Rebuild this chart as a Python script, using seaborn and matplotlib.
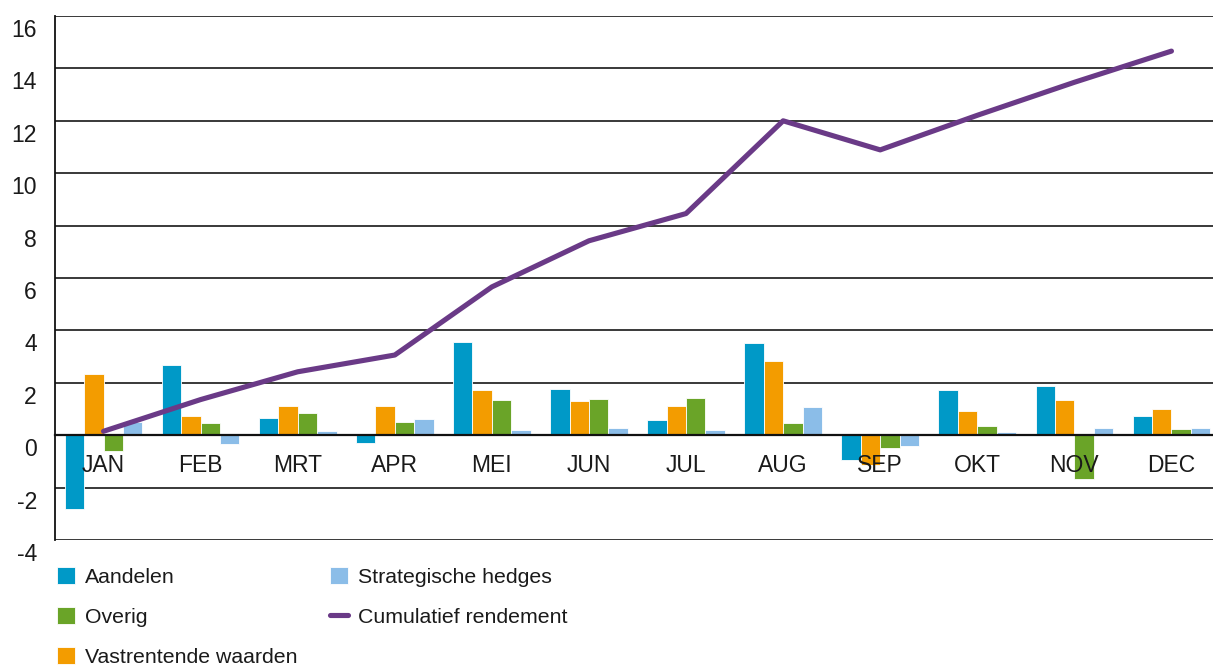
import numpy as np
import pandas as pd
import matplotlib
matplotlib.use("Agg")
import matplotlib.pyplot as plt
import matplotlib.transforms as mtransforms
from matplotlib.legend_handler import HandlerLine2D
import seaborn as sns

# Data
maanden = ["JAN", "FEB", "MRT", "APR", "MEI", "JUN", "JUL", "AUG", "SEP", "OKT", "NOV", "DEC"]
aandelen = [-2.80, 2.68, 0.66, -0.31, 3.57, 1.76, 0.59, 3.51, -0.94, 1.72, 1.87, 0.75]
vastrentend = [2.34, 0.75, 1.10, 1.10, 1.72, 1.30, 1.11, 2.83, -1.12, 0.94, 1.34, 0.99]
overig = [-0.61, 0.45, 0.85, 0.51, 1.33, 1.40, 1.41, 0.45, -0.50, 0.34, -1.66, 0.23]
hedges = [0.50, -0.32, 0.15, 0.61, 0.19, 0.28, 0.20, 1.08, -0.43, 0.11, 0.26, 0.27]
cumulatief = [0.15, 1.36, 2.42, 3.06, 5.66, 7.42, 8.46, 12.00, 10.89, 12.21, 13.47, 14.66]
y_ticks = [-4, -2, 0, 2, 4, 6, 8, 10, 12, 14, 16]

categorieen = ["Aandelen", "Vastrentende waarden", "Overig", "Strategische hedges"]
kleuren = ["#0099c7", "#f39c00", "#6aa428", "#8bbde8"]
lijn_kleur = "#6a3a87"

df = pd.DataFrame({
    "maand": maanden * 4,
    "categorie": np.repeat(categorieen, len(maanden)),
    "waarde": aandelen + vastrentend + overig + hedges,
})

sns.set_style("white")
plt.rcParams["font.family"] = ["Liberation Sans", "DejaVu Sans"]
plt.rcParams["axes.unicode_minus"] = False
tekst_kleur = "#1a1a1a"

fig = plt.figure(figsize=(12.13, 6.66), dpi=100)
# axes runs slightly past the right edge of the picture (cropped like the original)
ax = fig.add_axes([55 / 1213, 1 - 540 / 666, (1220 - 55) / 1213, (540 - 16) / 666])

sns.barplot(data=df, x="maand", y="waarde", hue="categorie", order=maanden,
            hue_order=categorieen, palette=kleuren, errorbar=None, saturation=1,
            edgecolor="white", linewidth=0.6, ax=ax)
sns.lineplot(x=np.arange(len(maanden)), y=cumulatief, color=lijn_kleur,
             linewidth=3.7, label="Cumulatief rendement", ax=ax, zorder=5)

ax.set_ylim(-4, 16)
ax.set_xlim(-0.5, len(maanden) - 0.5)
ax.set_yticks(y_ticks)
ax.set_xlabel("")
ax.set_ylabel("")

# grid behind the bars, month labels on top of them
ax.yaxis.grid(True, color="#2a2a2a", linewidth=1.3)
ax.set_axisbelow(True)
ax.xaxis.set_zorder(4.5)
for s in ["top", "right"]:
    ax.spines[s].set_visible(False)
ax.spines["left"].set_color("#111111")
ax.spines["left"].set_linewidth(1.3)
ax.spines["bottom"].set_position(("data", 0))
ax.spines["bottom"].set_color("#111111")
ax.spines["bottom"].set_linewidth(1.6)
ax.spines["bottom"].set_zorder(4)

# month labels below zero line, small ticks between groups
ax.set_xticks(np.arange(len(maanden)))
ax.set_xticklabels(maanden)
ax.set_xticks(np.arange(len(maanden) - 1) + 0.5, minor=True)
ax.tick_params(axis="x", which="major", length=0, pad=13.5, labelsize=16.5, labelcolor=tekst_kleur)
ax.tick_params(axis="x", which="minor", direction="in", length=8.5, width=1.2, color="#111111")
ax.tick_params(axis="y", length=0, pad=13, labelsize=16.5, labelcolor=tekst_kleur)

offset = mtransforms.ScaledTranslation(0, -12 / 100, fig.dpi_scale_trans)
for lab in ax.get_yticklabels():
    lab.set_transform(lab.get_transform() + offset)


class LangeLijn(HandlerLine2D):
    # line handle a bit longer than the squares, as in the original
    def create_artists(self, legend, orig_handle, xdescent, ydescent, width, height, fontsize, trans):
        arts = super().create_artists(legend, orig_handle, xdescent, ydescent, width, height, fontsize, trans)
        for a in arts:
            xd = a.get_xdata()
            if len(xd) == 2:
                a.set_xdata([xd[0] - 1, xd[1] + 8])
        return arts


# legend
handles, labels = ax.get_legend_handles_labels()
volgorde = ["Aandelen", "Overig", "Vastrentende waarden", "Strategische hedges", "Cumulatief rendement"]
h_map = dict(zip(labels, handles))
leg = fig.legend([h_map[l] for l in volgorde], volgorde, ncol=2, frameon=False,
                 loc="upper left", bbox_to_anchor=(57 / 1213, 1 - 567 / 666),
                 prop={"size": 15.3},
                 handlelength=0.85, handleheight=0.85, handletextpad=0.45,
                 columnspacing=1.55, labelspacing=0.96, borderaxespad=0, borderpad=0,
                 handler_map={h_map["Cumulatief rendement"]: LangeLijn()})
for t in leg.get_texts():
    t.set_color(tekst_kleur)
if ax.get_legend() is not None:
    ax.get_legend().remove()

fig.savefig("out.png", dpi=100)
